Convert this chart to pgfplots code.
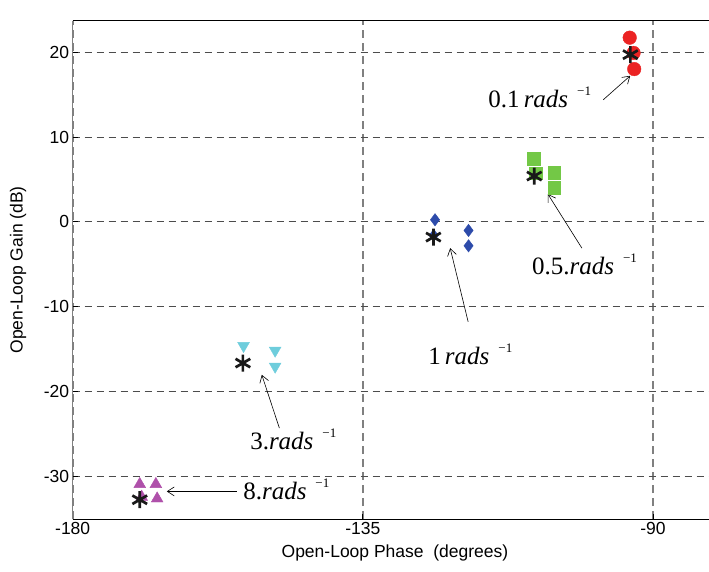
\documentclass[border=0pt]{standalone}
\usepackage{pgfplots}
\pgfplotsset{compat=1.18}
\usepackage{fontspec}
\setmainfont{Liberation Sans}
\newfontfamily\timesf{Liberation Serif}
\usetikzlibrary{arrows.meta}
\definecolor{mred}{RGB}{235,35,35}
\definecolor{mgreen}{RGB}{115,200,70}
\definecolor{mblue}{RGB}{45,75,170}
\definecolor{mcyan}{RGB}{110,205,220}
\definecolor{mmag}{RGB}{175,80,170}
\newcommand{\ann}[1]{{\timesf\fontsize{25}{28}\selectfont #1\hspace{9pt}\raisebox{12pt}{\fontsize{13}{13}\selectfont −1}}}
\begin{document}
\begin{tikzpicture}
\begin{axis}[
  at={(0,0)}, anchor=south west,
  scale only axis, width=636.3pt, height=498.3pt,
  xmin=-180, xmax=-81.3, ymin=-35, ymax=23.7,
  axis x line*=box, axis y line*=left,
  xtick={-180,-135,-90}, ytick={-30,-20,-10,0,10,20},
  xtick pos=bottom, ytick pos=left,
  tick align=inside, major tick length=5pt,
  grid=major,
  x grid style={black!50, dash pattern=on 8pt off 5pt, line width=1.8pt},
  y grid style={black!70, dash pattern=on 7pt off 5pt, line width=0.8pt},
  x axis line style={black, line width=0.8pt},
  y axis line style={black!50, line width=1.4pt},
  tick style={black, line width=0.8pt},
  ticklabel style={font=\fontsize{17.5}{20}\selectfont},
  /pgf/number format/assume math mode=true,
  xlabel={Open-Loop Phase\ \ (degrees)},
  ylabel={Open-Loop Gain (dB)},
  label style={font=\fontsize{17.5}{20}\selectfont},
  xlabel style={at={(axis description cs:0.5065,-0.0763)}, anchor=base},
  ylabel style={at={(axis description cs:-0.086,0.5)}, anchor=center},
  clip=false,
]
% 0.1 rad/s
\addplot[only marks, mark=*, mark size=6.8pt, color=mred] coordinates {(-93.6,21.7) (-93.0,19.9) (-92.9,18.0)};
% 0.5 rad/s
\addplot[only marks, mark=square*, mark size=6.3pt, color=mgreen] coordinates {(-108.5,7.43) (-108.2,5.75) (-105.3,5.82) (-105.3,4.05)};
% 1 rad/s
\addplot[only marks, mark=diamond*, mark size=6.2pt, color=mblue] coordinates {(-123.8,0.25) (-124.0,-1.6) (-118.6,-1.01) (-118.6,-2.82)};
% 3 rad/s
\addplot[only marks, mark=triangle*, mark options={rotate=180}, mark size=6.8pt, color=mcyan] coordinates {(-153.5,-14.6) (-148.6,-15.15) (-148.6,-17.03)};
% 8 rad/s
\addplot[only marks, mark=triangle*, mark size=6.8pt, color=mmag] coordinates {(-169.6,-30.9) (-167.1,-30.9) (-166.9,-32.6) (-169.3,-32.4)};
% nominal
\addplot[only marks, mark=asterisk, mark size=8.5pt, mark options={line width=2.7pt}, color=black!90] coordinates {(-93.5,19.7) (-108.4,5.4) (-124.05,-1.79) (-153.6,-16.63) (-169.6,-32.73)};

\draw[-{Straight Barb[length=7pt,width=9pt]}, line width=0.6pt] (axis cs:-97.71,14.38) -- (axis cs:-93.52,17.21);
\draw[-{Straight Barb[length=7pt,width=9pt]}, line width=0.6pt] (axis cs:-101.02,-3.09) -- (axis cs:-106.29,3.27);
\draw[-{Straight Barb[length=7pt,width=9pt]}, line width=0.6pt] (axis cs:-118.66,-11.77) -- (axis cs:-121.45,-3.09);
\draw[-{Straight Barb[length=7pt,width=9pt]}, line width=0.6pt] (axis cs:-147.94,-24.29) -- (axis cs:-150.67,-18.01);
\draw[-{Straight Barb[length=7pt,width=9pt]}, line width=0.6pt] (axis cs:-154.55,-31.75) -- (axis cs:-165.41,-31.75);

\node[anchor=base west, inner sep=0pt] at (axis cs:-115.56,13.44) {\ann{0.1\,\textit{rads}}};
\node[anchor=base west, inner sep=0pt] at (axis cs:-108.78,-6.23) {\ann{0.5.\textit{rads}}};
\node[anchor=base west, inner sep=0pt] at (axis cs:-124.87,-16.83) {\ann{1\,\textit{rads}}};
\node[anchor=base west, inner sep=0pt] at (axis cs:-152.49,-26.84) {\ann{3.\textit{rads}}};
\node[anchor=base west, inner sep=0pt] at (axis cs:-153.57,-32.73) {\ann{8.\textit{rads}}};
\end{axis}
\pgfresetboundingbox
\path (-72.7pt,-52pt) rectangle (636.3pt,519pt);
\end{tikzpicture}
\end{document}
